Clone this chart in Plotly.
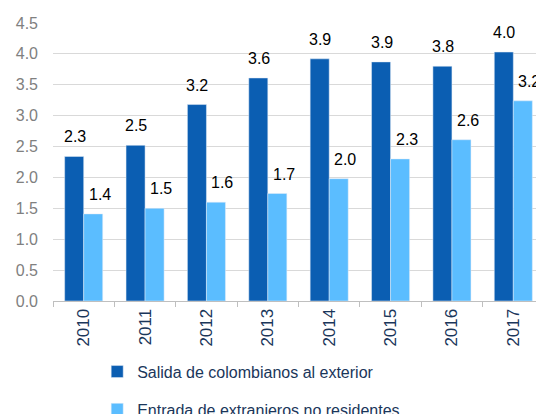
import plotly.graph_objects as go

years = ["2010", "2011", "2012", "2013", "2014", "2015", "2016", "2017"]
salida = [2.34, 2.52, 3.18, 3.61, 3.92, 3.87, 3.80, 4.03]
entrada = [1.41, 1.50, 1.60, 1.74, 1.98, 2.30, 2.61, 3.24]
salida_name = "Salida de colombianos al exterior"
entrada_name = "Entrada de extranjeros no residentes"
y_ticks = [0, 0.5, 1.0, 1.5, 2.0, 2.5, 3.0, 3.5, 4.0, 4.5]

dark = "#0B5EB2"
light = "#5BBDFF"
navy = "#1A365A"
font_name = "Liberation Sans, Arial, sans-serif"

fig = go.Figure()
fig.add_trace(go.Bar(x=years, y=salida, name=salida_name, marker_color=dark,
                     legendgroup="a"))
fig.add_trace(go.Bar(x=years, y=entrada, name=entrada_name, marker_color=light,
                     legendgroup="b"))

# data labels: one decimal, above each bar
# (annotations on a category axis take the category index as x)
label_font = dict(family=font_name, size=16, color="#000000")
annotations = []
for i, v in enumerate(salida):
    annotations.append(dict(x=i, y=v, text=f"{v:.1f}", showarrow=False,
                            xshift=-9, yshift=9, yanchor="bottom", font=label_font))
for i, v in enumerate(entrada):
    annotations.append(dict(x=i, y=v, text=f"{v:.1f}", showarrow=False,
                            xshift=16, yshift=9, yanchor="bottom", font=label_font))

# page body has an 8px margin, so the figure is 8px smaller than the window
fig.update_layout(
    width=536, height=406,
    margin=dict(l=45, r=0, t=15, b=113, autoexpand=False),
    paper_bgcolor="white", plot_bgcolor="white",
    barmode="group", bargap=0.38, bargroupgap=0,
    font=dict(family=font_name, size=16),
    annotations=annotations,
    legend=dict(orientation="v", x=0.09, xanchor="left", y=-0.193, yanchor="top",
                font=dict(family=font_name, size=16, color=navy),
                tracegroupgap=14, traceorder="grouped",
                bgcolor="rgba(0,0,0,0)"),
)
fig.update_yaxes(range=[0, 4.5], tickvals=y_ticks, tickformat=".1f",
                 showgrid=True, gridcolor="#D9D9D9", gridwidth=1,
                 zeroline=False, showline=False, ticks="",
                 ticklabelstandoff=14,
                 tickfont=dict(family=font_name, size=16, color="#808080"))
fig.update_xaxes(type="category", range=[-0.5, len(years) - 0.5],
                 showline=True, linecolor="#BFBFBF", linewidth=1,
                 ticks="outside", ticklen=5, tickcolor="#BFBFBF",
                 tickson="boundaries", tickangle=-90,
                 tickfont=dict(family=font_name, size=17, color=navy))

fig.write_html("out.html")
